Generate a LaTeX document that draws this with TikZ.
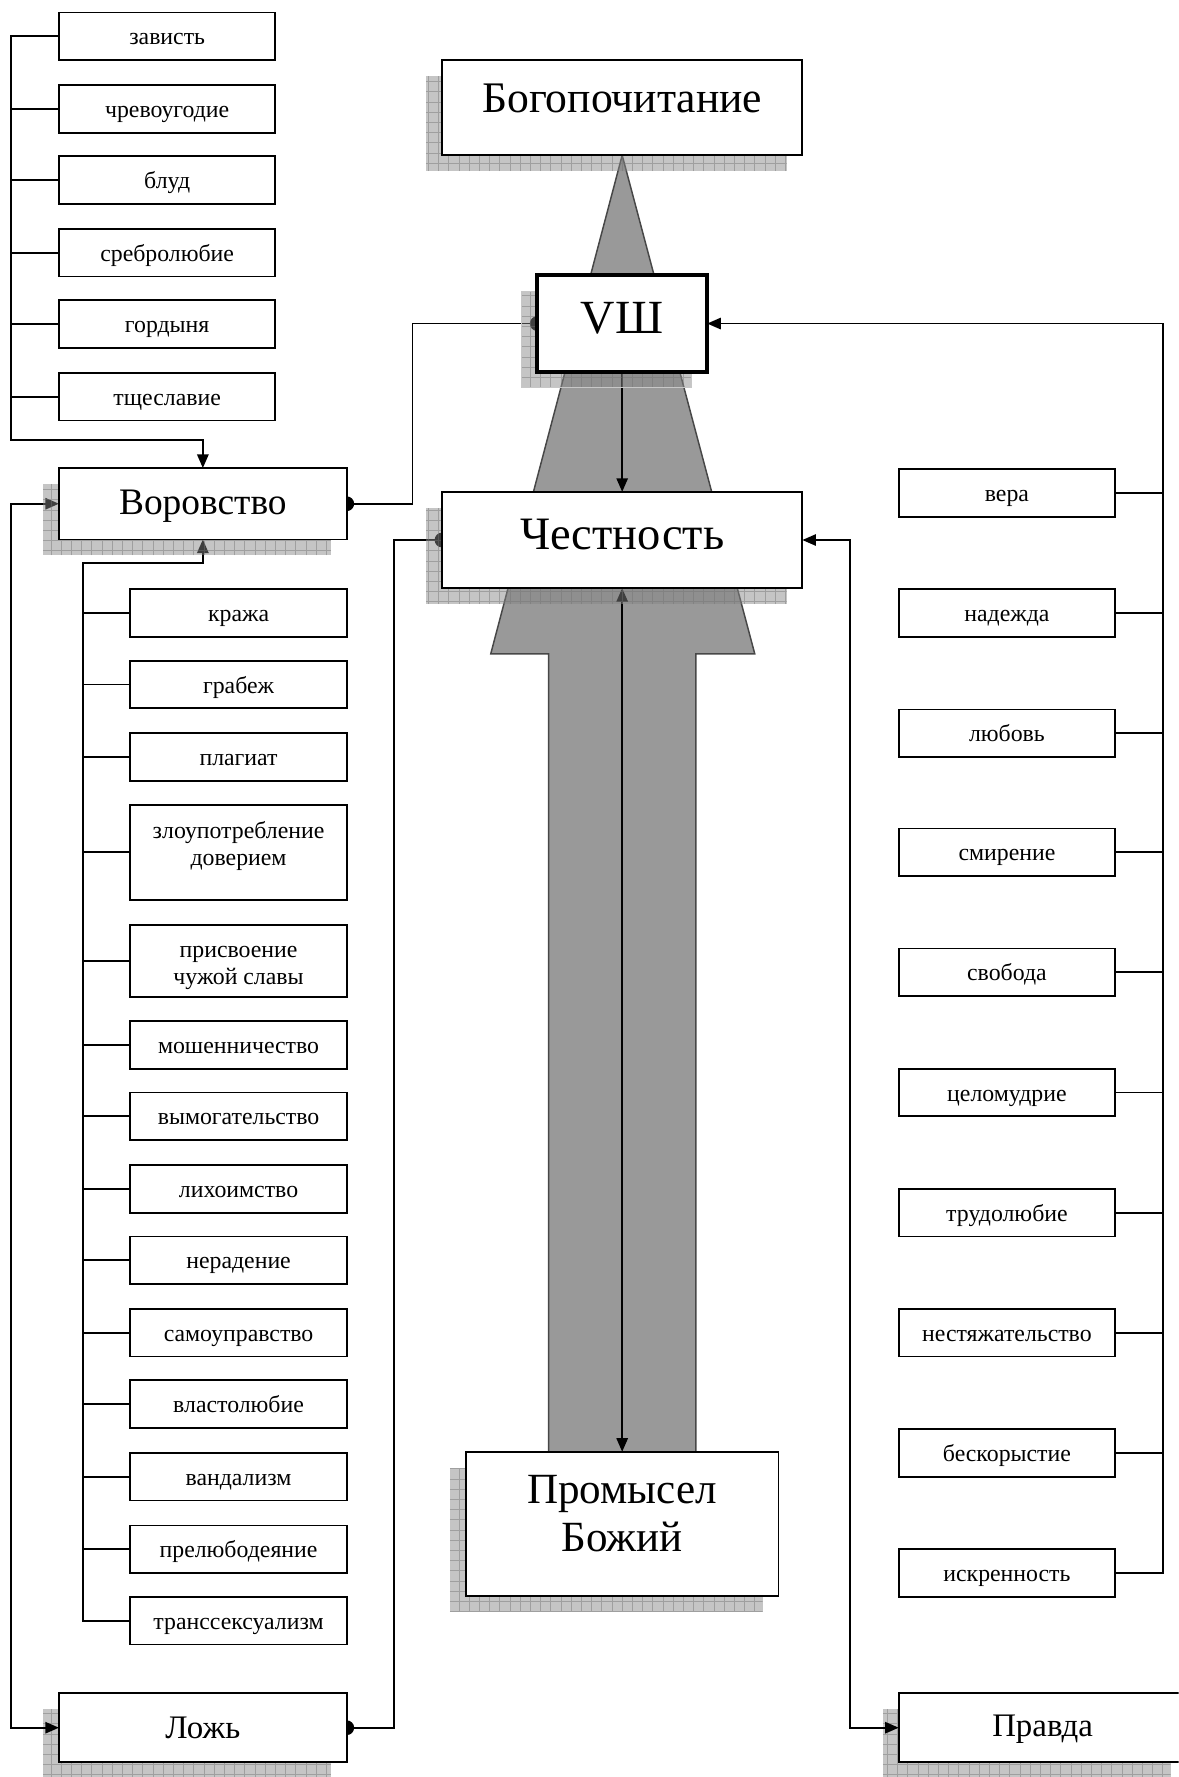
\documentclass[tikz,border=0pt]{standalone}
\usepackage{fontspec}
\setmainfont{Liberation Serif}
\usetikzlibrary{arrows.meta}
\newcommand\up[2]{\raisebox{#1}[\height][\depth]{#2}}
\newcommand\shd[2]{%
  \fill[black!48,opacity=0.48] #1 rectangle #2;
  \begin{scope}
    \clip #1 rectangle #2;
    \draw[black!55,opacity=0.45,line width=0.7pt,step=9pt] #1 grid #2;
  \end{scope}}
\begin{document}
\begin{tikzpicture}[x=1pt,y=-1pt,
  box/.style={draw,line width=1.6pt,fill=white,inner sep=0pt,outer sep=0pt,anchor=north west,align=center},
  sbm/.style={box,minimum width=191pt,minimum height=42pt,font=\fontsize{21}{24}\selectfont},
  sb/.style={sbm,text height=15pt,text depth=0pt},
  bigbox/.style={box,font=\fontsize{40}{42}\selectfont},
  conn/.style={line width=1.6pt},
  arr/.style={conn,-{Triangle[length=12pt,width=10pt]}},
  dbl/.style={conn,{Triangle[length=12pt,width=10pt]}-{Triangle[length=12pt,width=10pt]}}
]
\useasboundingbox (0,0) rectangle (1040,1568);
\clip (0,0) rectangle (1040,1568);

% big grey arrow
\filldraw[fill=black!40,draw=black!72,line width=1.3pt]
  (549,137) -- (433,577) -- (484,577) -- (484,1281) -- (614,1281) -- (614,577) -- (666,577) -- cycle;

% shadows under lower boxes
\shd{(38,1508)}{(292,1575)}
\shd{(779,1508)}{(1033,1575)}

% coordinates of the trunks
\coordinate (LT) at (10,32);
\coordinate (LB) at (10,388);
\coordinate (VT) at (73,497);
\coordinate (RT) at (1026,285.5);

% small boxes
\node[sb] (zav)  at (52,11)  {зависть};
\node[sb] (chr)  at (52,75)  {чревоугодие};
\node[sb] (blud) at (52,138) {блуд};
\node[sb] (sreb) at (52,202) {сребролюбие};
\node[sb] (gord) at (52,265) {гордыня};
\node[sb] (tsh)  at (52,329) {тщеславие};

\node[sb] (kr)    at (115,520)  {кража};
\node[sb] (grab)  at (115,583)  {грабеж};
\node[sb] (plag)  at (115,647)  {плагиат};
\node[sbm,minimum height=84pt] (zlo) at (115,710)
  {\up{5pt}{\begin{tabular}{@{}c@{}}злоупотребление\\доверием\end{tabular}}};
\node[sbm,minimum height=64pt] (pris) at (115,816)
  {\up{-4pt}{\begin{tabular}{@{}c@{}}присвоение\\чужой славы\end{tabular}}};
\node[sb] (mosh)  at (115,901)  {мошенничество};
\node[sb] (vym)   at (115,964)  {вымогательство};
\node[sb] (lich)  at (115,1028) {лихоимство};
\node[sb] (ner)   at (115,1091) {нерадение};
\node[sb] (sam)   at (115,1155) {самоуправство};
\node[sb] (vlast) at (115,1218) {властолюбие};
\node[sb] (vand)  at (115,1282) {вандализм};
\node[sb] (prel)  at (115,1346) {прелюбодеяние};
\node[sb] (trans) at (115,1409) {транссексуализм};

\node[sb] (vera) at (793,414)  {вера};
\node[sb] (nad)  at (793,520)  {надежда};
\node[sb] (lub)  at (793,626)  {любовь};
\node[sb] (smir) at (793,731)  {смирение};
\node[sb] (svob) at (793,837)  {свобода};
\node[sb] (cel)  at (793,943)  {целомудрие};
\node[sb] (trud) at (793,1049) {трудолюбие};
\node[sb] (nest) at (793,1155) {нестяжательство};
\node[sb] (besk) at (793,1261) {бескорыстие};
\node[sb] (isk)  at (793,1367) {искренность};

% main box anchor points (the boxes are drawn on top at the end)
\coordinate (vorN) at (179,413);
\coordinate (vorS) at (179,476);
\coordinate (vorW) at (52,444.5);
\coordinate (vorE) at (306,444.5);
\coordinate (lozW) at (52,1524.5);
\coordinate (lozE) at (306,1524.5);
\coordinate (viiiW) at (474,285.5);
\coordinate (viiiE) at (624,285.5);
\coordinate (viiiS) at (549,328);
\coordinate (chN) at (549,434);
\coordinate (chS) at (549,519);
\coordinate (chW) at (390,476.5);
\coordinate (chE) at (708,476.5);
\coordinate (prN) at (549,1281);
\coordinate (pravW) at (793,1524.5);

% connectors of the left upper list
\draw[arr] (zav.west) -- (LT) -- (LB) -| (vorN);
\foreach \n in {chr,blud,sreb,gord,tsh} \draw[conn] (\n.west) -- (\n.west -| LT);

% connectors of the list under Воровство
\draw[arr] (trans.west) -- (trans.west -| VT) -- (VT) -| (vorS);
\foreach \n in {kr,grab,plag,zlo,pris,mosh,vym,lich,ner,sam,vlast,vand,prel} \draw[conn] (\n.west) -- (\n.west -| VT);

% right list
\draw[arr] (isk.east) -- (isk.east -| RT) -- (RT) -- (viiiE);
\foreach \n in {vera,nad,lub,smir,svob,cel,trud,nest,besk} \draw[conn] (\n.east) -- (\n.east -| RT);

% Воровство <-> Ложь
\draw[dbl] (vorW) -- (10,444.5) -- (10,1524.5) -- (lozW);
% Воровство -> VШ
\draw[conn] (vorE) -- (364,444.5) -- (364,285.5) -- (viiiW);
\fill (vorE) circle (6.5pt);
\fill (viiiW) circle (6.5pt);
% Ложь -> Честность
\draw[conn] (lozE) -- (348,1524.5) -- (348,476.5) -- (chW);
\fill (lozE) circle (6.5pt);
\fill (chW) circle (6.5pt);
% Честность <-> Правда
\draw[dbl] (chE) -- (750,476.5) -- (750,1524.5) -- (pravW);
% VШ -> Честность
\draw[arr] (viiiS) -- (chN);
% Честность <-> Промысел
\draw[dbl] (chS) -- (prN);

% shadows of upper boxes
\shd{(376,67)}{(694,151)}
\shd{(460,257)}{(610,342)}
\draw[black!22,line width=0.8pt] (460,257) rectangle (610,342);
\shd{(38,427)}{(292,490)}
\shd{(376,448)}{(694,533)}
\shd{(397,1295)}{(673,1422)}

% main boxes
\node[bigbox,minimum width=318pt,minimum height=84pt,font=\fontsize{38.5}{40}\selectfont] (bog) at (390,53) {\up{8pt}{Богопочитание}};
\node[bigbox,minimum width=150pt,minimum height=85pt,line width=3.4pt,font=\fontsize{42}{44}\selectfont] (viii) at (474,243) {\up{5pt}{VШ}};
\node[bigbox,minimum width=254pt,minimum height=63pt,font=\fontsize{33}{35}\selectfont] (vor) at (52,413) {\up{-2pt}{Воровство}};
\node[bigbox,minimum width=318pt,minimum height=85pt,font=\fontsize{41}{43}\selectfont] (chest) at (390,434) {\up{5pt}{Честность}};
\node[bigbox,minimum width=276pt,minimum height=127pt,font=\fontsize{38}{42}\selectfont] (prom) at (411,1281)
  {\up{5pt}{\begin{tabular}{@{}c@{}}Промысел\\Божий\end{tabular}}};
\node[bigbox,minimum width=254pt,minimum height=61pt,font=\fontsize{29}{31}\selectfont] (loz) at (52,1494) {Ложь};
\node[bigbox,minimum width=254pt,minimum height=61pt,font=\fontsize{29}{31}\selectfont] (prav) at (793,1494) {\up{-1pt}{Правда}};
\end{tikzpicture}
\end{document}
